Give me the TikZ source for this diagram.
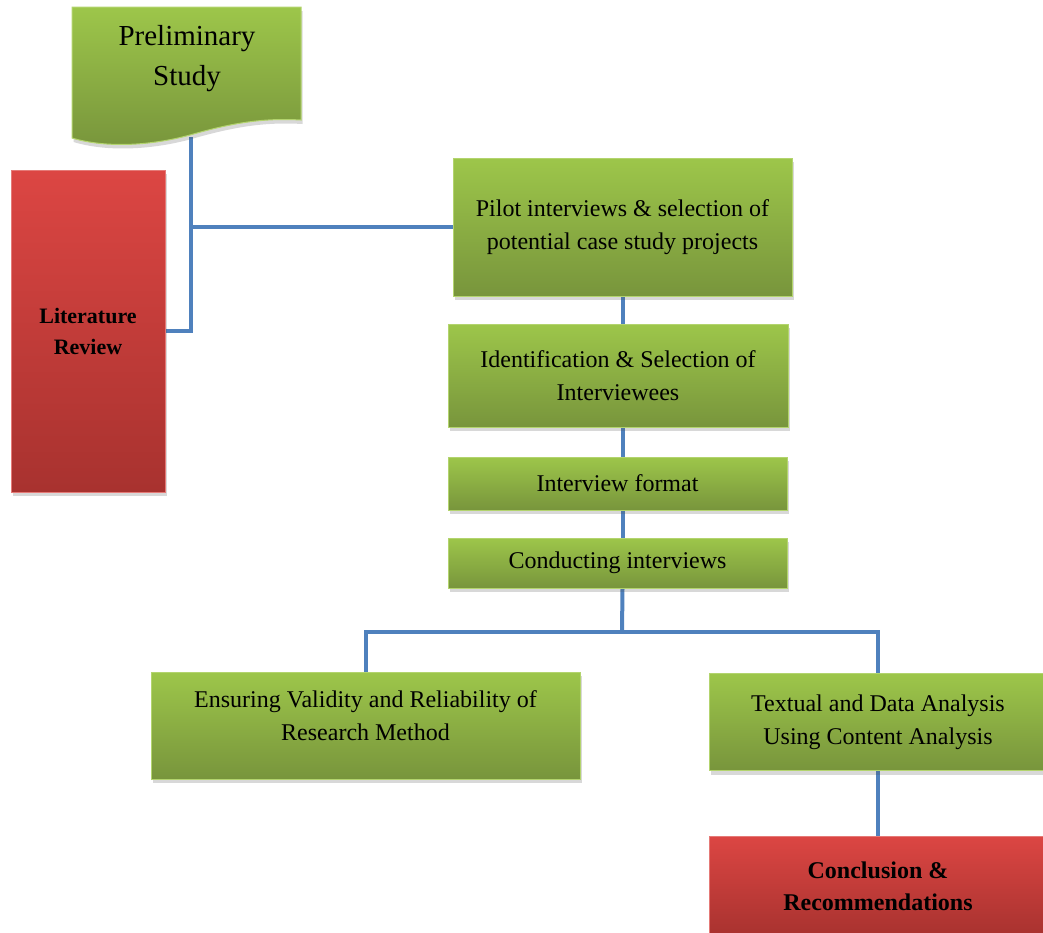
\documentclass[tikz,border=0pt]{standalone}
\usepackage{fontspec}
\setmainfont{Liberation Serif}
\usetikzlibrary{shadows,backgrounds}
\definecolor{gtop}{HTML}{9DC64A}
\definecolor{gbot}{HTML}{78953C}
\definecolor{gedge}{HTML}{B3D46E}
\definecolor{rtop}{HTML}{DC4643}
\definecolor{rbot}{HTML}{A8322F}
\definecolor{redge}{HTML}{E57A77}
\definecolor{conn}{HTML}{4F81BD}
\begin{document}
\begin{tikzpicture}[x=1pt,y=-1pt,
  shad/.style={drop shadow={shadow xshift=1.5pt,shadow yshift=-4pt,opacity=0.22,fill=black!70}},
  gbox/.style={rectangle, top color=gtop, bottom color=gbot, draw=gedge, line width=1pt,
    align=center, inner sep=0pt, shad, font=\fontsize{24}{33}\selectfont},
  rbox/.style={rectangle, top color=rtop, bottom color=rbot, draw=redge, line width=1pt,
    align=center, inner sep=0pt, shad, font=\bfseries\fontsize{22}{31}\selectfont},
  gtext/.style={align=center, inner sep=0pt, font=\fontsize{24}{33}\selectfont},
  link/.style={draw=conn, line width=4pt}]
\useasboundingbox (0,0) rectangle (1043,932);

% Preliminary study (document shape)
\path[top color=gtop, bottom color=gbot, draw=gedge, line width=1pt, shad]
  (72,7) -- (301,7) -- (301,120)
  .. controls (265,118) and (235,122) .. (190,135)
  .. controls (150,146) and (105,148) .. (72,138) -- cycle;
\node[align=center, inner sep=0pt, font=\fontsize{29}{40}\selectfont] (prelim) at (187,59) {Preliminary\\Study};
\coordinate (pb) at (191,137);

% boxes
\node[rbox, minimum width=154pt, minimum height=322pt] (lit) at (88,331) {Literature\\Review};
\node[gbox, minimum width=339pt, minimum height=138pt] (pilot) at (622.5,227) {Pilot interviews \& selection of\\potential case study projects};
\node[gbox, minimum width=340pt, minimum height=103pt] (ident) at (618,375.5) {Identification \& Selection of\\Interviewees};
\node[gbox, minimum width=339pt, minimum height=53pt] (format) at (617.5,483.5) {Interview format};
\node[gbox, minimum width=339pt, minimum height=50pt] (conduct) at (617.5,563) {Conducting interviews};
\node[gbox, minimum width=429pt, minimum height=107pt] (ensure) at (365.5,725.5) {};
\node[gtext] (ensuretext) at (365.5,716) {Ensuring Validity and Reliability of\\Research Method};
\node[gbox, minimum width=338pt, minimum height=97pt] (textual) at (878,722) {Textual and Data Analysis\\Using Content Analysis};
\node[rbox, minimum width=338pt, minimum height=100pt, font=\bfseries\fontsize{24}{32}\selectfont] (concl) at (878,886) {Conclusion \&\\Recommendations};
\coordinate (hub) at (622,632);

% connectors
\begin{pgfonlayer}{background}
\draw[link] (pb) |- (lit.east);
\draw[link] (pilot.west) -- (pilot.west -| pb);
\draw[link] (pilot.south) -- (pilot.south |- ident.north);
\draw[link] (pilot.south |- ident.south) -- (pilot.south |- format.north);
\draw[link] (pilot.south |- format.south) -- (pilot.south |- conduct.north);
\draw[link] (pilot.south |- conduct.south) -- (hub);
\draw[link] (ensure.north) |- (hub) -| (textual.north);
\draw[link] (textual.south) -- (concl.north);
\end{pgfonlayer}
\end{tikzpicture}
\end{document}
